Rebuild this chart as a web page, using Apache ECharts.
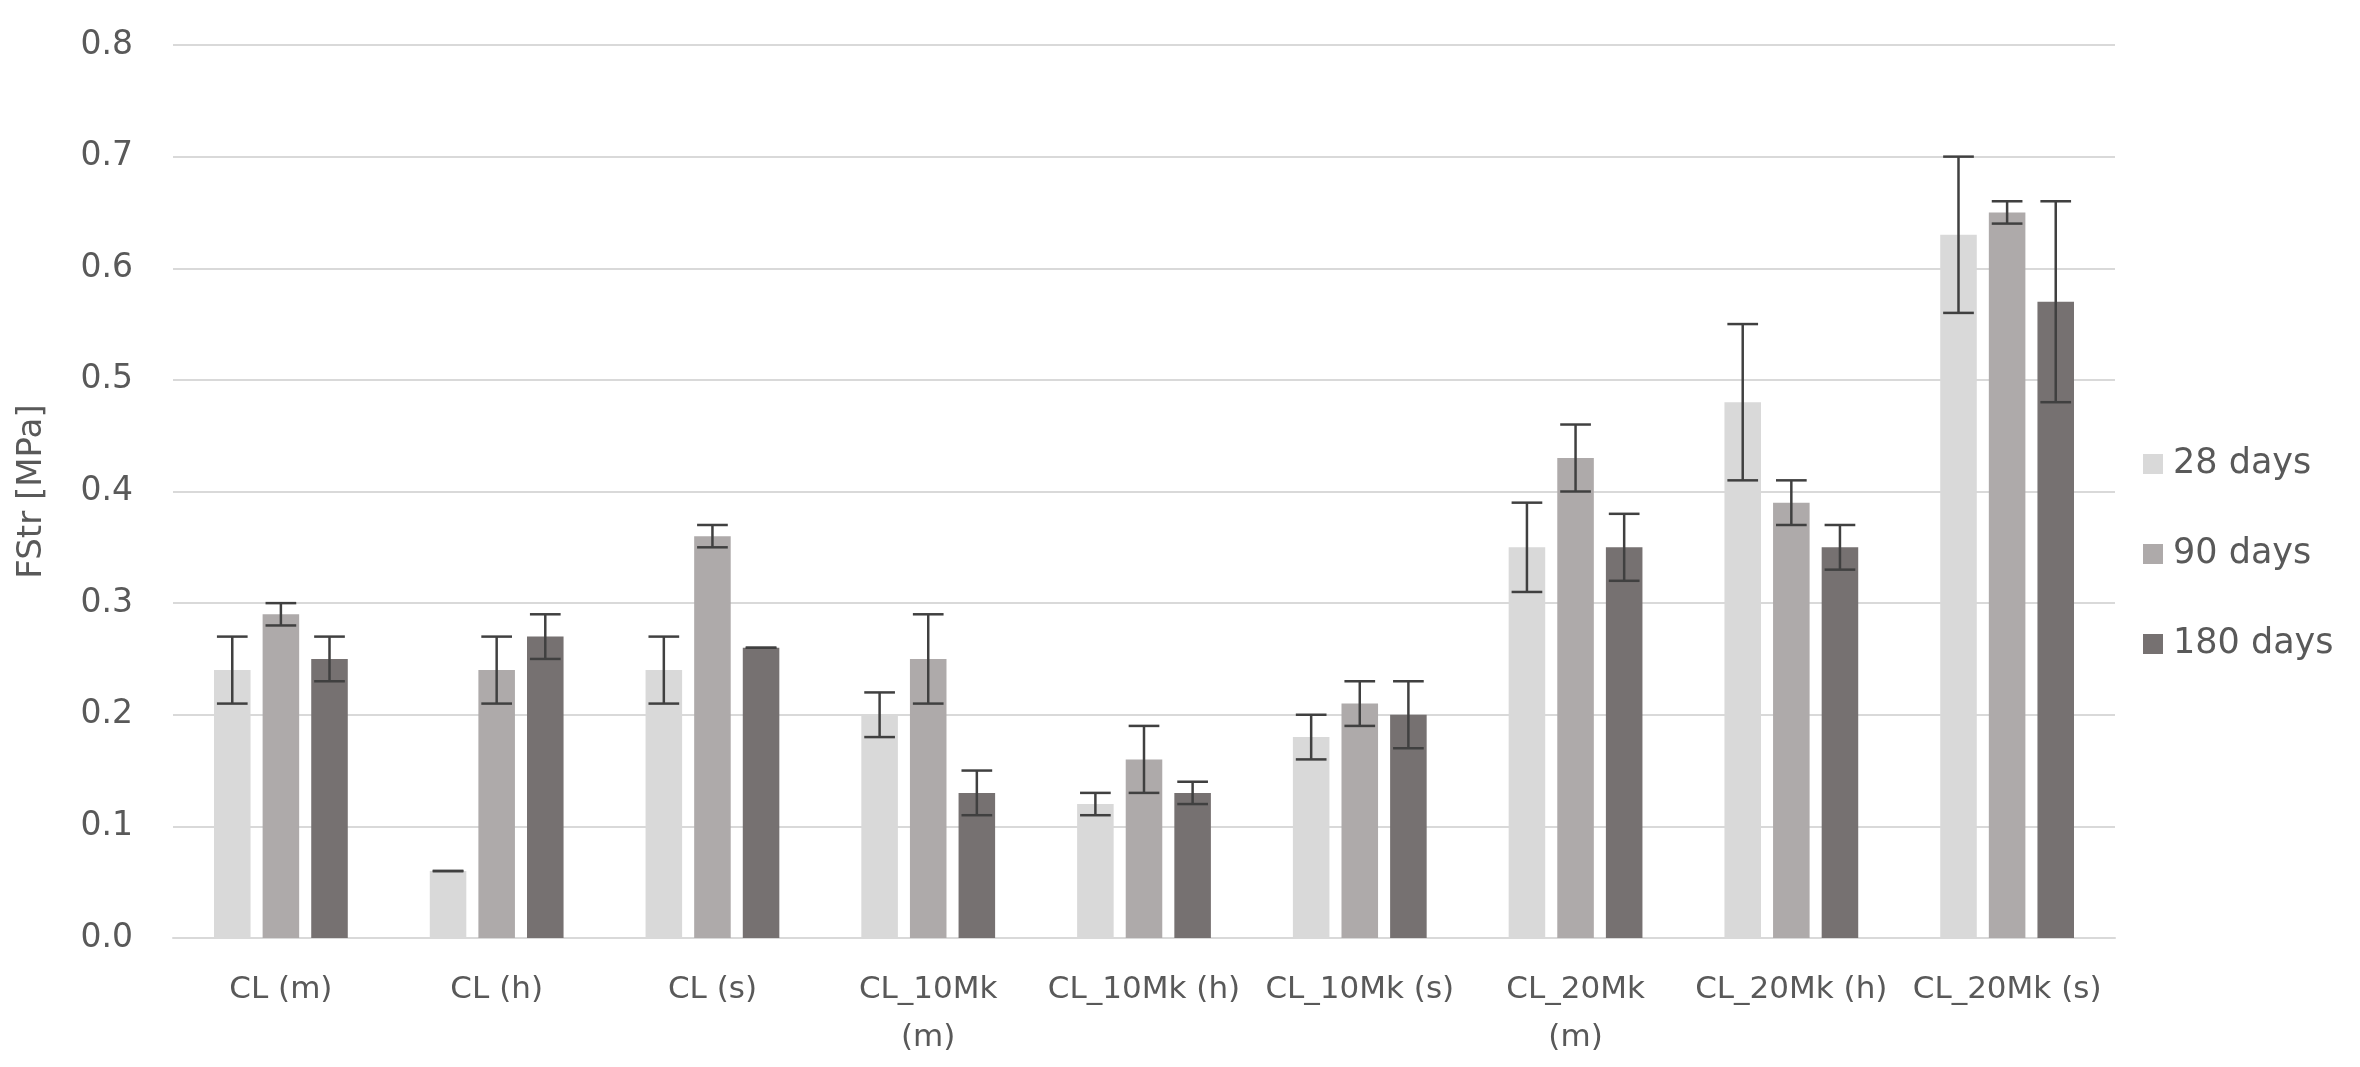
<!DOCTYPE html>
<html>
<head>
<meta charset="utf-8">
<script src="https://cdn.jsdelivr.net/npm/echarts@6/dist/echarts.min.js"></script>
<style>
html,body{margin:0;padding:0;background:#fff;}
#chart{width:2360px;height:1067px;}
</style>
</head>
<body>
<div id="chart"></div>
<script>
const categories = ['CL (m)', 'CL (h)', 'CL (s)', 'CL_10Mk (m)', 'CL_10Mk (h)', 'CL_10Mk (s)', 'CL_20Mk (m)', 'CL_20Mk (h)', 'CL_20Mk (s)'];
const tickLabels = ['CL (m)', 'CL (h)', 'CL (s)', 'CL_10Mk\n(m)', 'CL_10Mk (h)', 'CL_10Mk (s)', 'CL_20Mk\n(m)', 'CL_20Mk (h)', 'CL_20Mk (s)'];
const seriesNames = ['28 days', '90 days', '180 days'];
const days28 = [0.24, 0.06, 0.24, 0.20, 0.12, 0.18, 0.35, 0.48, 0.63];
const days90 = [0.29, 0.24, 0.36, 0.25, 0.16, 0.21, 0.43, 0.39, 0.65];
const days180 = [0.25, 0.27, 0.26, 0.13, 0.13, 0.20, 0.35, 0.35, 0.57];
const err28 = [0.03, 0.00, 0.03, 0.02, 0.01, 0.02, 0.04, 0.07, 0.07];
const err90 = [0.01, 0.03, 0.01, 0.04, 0.03, 0.02, 0.03, 0.02, 0.01];
const err180 = [0.02, 0.02, 0.00, 0.02, 0.01, 0.03, 0.03, 0.02, 0.09];
const yTicks = [0, 0.1, 0.2, 0.3, 0.4, 0.5, 0.6, 0.7, 0.8];

const colors = ['#d9d9d9', '#aeaaaa', '#767171'];
const values = [days28, days90, days180];
const errors = [err28, err90, err180];
const FONT = "'DejaVu Sans', sans-serif";
const CAT_GAP = 0.38, BAR_GAP = 0.33;

const chart = echarts.init(document.getElementById('chart'), null, {renderer: 'canvas'});

const barSeries = seriesNames.map((name, s) => ({
  name: name,
  type: 'bar',
  data: values[s],
  itemStyle: {color: colors[s]},
  barGap: (BAR_GAP * 100) + '%',
  barCategoryGap: (CAT_GAP * 100) + '%',
  z: 2
}));

const errSeries = seriesNames.map((name, s) => ({
  type: 'custom',
  name: name + ' err',
  data: values[s].map((v, i) => [i, v, errors[s][i]]),
  z: 5,
  silent: true,
  renderItem: function (params, api) {
    const i = api.value(0), v = api.value(1), e = api.value(2);
    const band = api.size([1, 0])[0];
    const bw = band * (1 - CAT_GAP) / (3 + 2 * BAR_GAP);
    const off = (s - 1) * bw * (1 + BAR_GAP);
    const hi = api.coord([i, v + e]);
    const lo = api.coord([i, v - e]);
    const x = hi[0] + off;
    const cw = bw * 0.42;
    const st = {stroke: '#404040', lineWidth: 2.5};
    return {
      type: 'group',
      children: [
        {type: 'line', shape: {x1: x, y1: hi[1], x2: x, y2: lo[1]}, style: st},
        {type: 'line', shape: {x1: x - cw, y1: hi[1], x2: x + cw, y2: hi[1]}, style: st},
        {type: 'line', shape: {x1: x - cw, y1: lo[1], x2: x + cw, y2: lo[1]}, style: st}
      ]
    };
  }
}));

chart.setOption({
  backgroundColor: '#ffffff',
  animation: false,
  textStyle: {fontFamily: FONT},
  grid: {left: 173, right: 245, top: 45, bottom: 129, containLabel: false},
  legend: {
    data: seriesNames,
    orient: 'vertical',
    left: 2138,
    top: 441,
    itemWidth: 20,
    itemHeight: 20,
    itemGap: 54,
    icon: 'rect',
    textStyle: {fontSize: 35, lineHeight: 36, color: '#595959', fontFamily: FONT, padding: [0, 0, 0, 5]}
  },
  xAxis: {
    type: 'category',
    data: categories,
    axisLine: {show: true, lineStyle: {color: '#d9d9d9', width: 2}},
    axisTick: {show: false},
    axisLabel: {
      color: '#595959', fontSize: 31, fontFamily: FONT, margin: 28, lineHeight: 48, interval: 0,
      formatter: function (val, idx) { return tickLabels[idx]; }
    }
  },
  yAxis: {
    type: 'value',
    min: 0,
    max: 0.8,
    interval: 0.1,
    name: 'FStr [MPa]',
    nameLocation: 'middle',
    nameRotate: 90,
    nameGap: 124,
    nameTextStyle: {color: '#595959', fontSize: 34, fontFamily: FONT},
    axisLine: {show: false},
    axisTick: {show: false},
    splitLine: {lineStyle: {color: '#d9d9d9', width: 2}},
    axisLabel: {
      color: '#595959', fontSize: 33, fontFamily: FONT, margin: 40,
      formatter: function (v) { return v.toFixed(1); }
    }
  },
  series: barSeries.concat(errSeries)
});
</script>
</body>
</html>
